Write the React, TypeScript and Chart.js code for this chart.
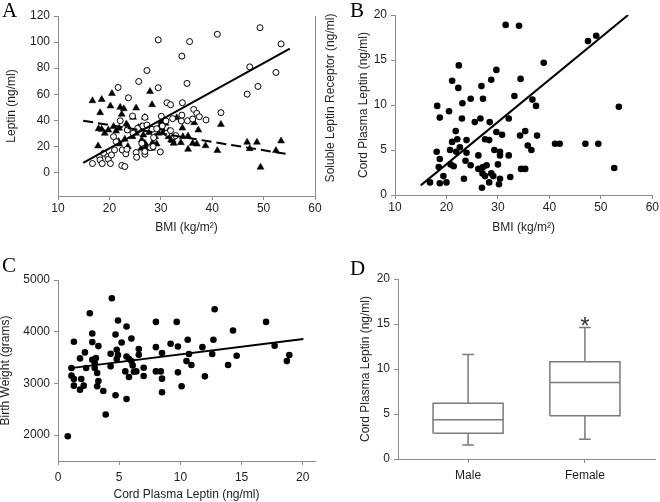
import React, { useEffect, useRef } from "react";
import { Chart, registerables } from "chart.js";

Chart.register(...registerables);

const SANS = "'Liberation Sans', Arial, Helvetica, sans-serif";
const SERIF = "'Liberation Serif', 'Times New Roman', serif";
const AXIS_COLOR = "#8c8c8c";
const TEXT_COLOR = "#1e1e1e";
const BOX_COLOR = "#7a7a7a";

// ---------------- Panel A ----------------
const aLeptinBmi = [16.7, 18.1, 18.2, 18.6, 18.9, 19.7, 19.8, 20.2, 20.4, 21.0, 21.3, 20.8, 21.7, 22.1, 22.4, 23.0, 22.5, 23.2, 23.4, 23.5, 23.7, 24.5, 24.6, 25.2, 25.3, 25.5, 25.7, 26.3, 26.5, 26.9, 26.9, 26.9, 27.3, 27.3, 28.0, 28.3, 28.5, 28.6, 29.2, 29.5, 29.5, 29.9, 30.1, 30.3, 31.0, 31.2, 31.2, 31.9, 31.9, 32.3, 32.6, 32.9, 34.0, 34.1, 34.1, 34.2, 35.1, 35.2, 35.6, 36.2, 36.4, 37.0, 37.5, 38.8, 41.0, 41.7, 46.8, 47.3, 48.9, 49.3, 52.4, 53.4];
const aLeptin = [6.9, 12.2, 9.7, 6.9, 14.8, 12.2, 10.2, 6.9, 13.5, 17.3, 23.7, 27.5, 65.2, 39.7, 5.4, 4.6, 17.3, 14.3, 17.8, 32.6, 57.3, 43.3, 30.1, 15.3, 11.7, 33.9, 69.8, 22.4, 35.7, 42.3, 14.0, 16.1, 36.4, 78.2, 19.1, 33.1, 19.9, 26.8, 33.6, 65.0, 101.7, 15.8, 43.1, 35.7, 39.5, 53.5, 30.1, 52.0, 32.1, 41.3, 27.5, 28.3, 39.5, 44.0, 89.2, 53.5, 68.3, 39.7, 100.4, 41.0, 48.4, 45.4, 42.8, 40.3, 106.0, 45.9, 60.1, 81.0, 66.0, 111.0, 76.7, 98.6];
const aReceptorBmi = [16.7, 18.5, 20.5, 18.2, 20.2, 22.1, 22.8, 25.2, 27.9, 28.3, 22.4, 17.9, 18.5, 19.1, 19.8, 20.8, 21.3, 21.9, 23.3, 23.6, 17.8, 21.8, 21.9, 23.0, 23.6, 24.5, 25.2, 26.2, 26.3, 26.6, 26.9, 27.3, 27.7, 28.4, 28.9, 29.6, 30.2, 30.3, 30.1, 26.2, 26.9, 28.3, 29.2, 24.6, 26.9, 25.7, 30.9, 33.1, 31.5, 32.0, 32.3, 33.9, 34.2, 34.3, 35.3, 35.3, 36.2, 36.5, 37.0, 37.3, 38.7, 41.0, 41.7, 46.8, 47.3, 48.7, 49.4, 52.4, 53.4, 31.5, 32.5, 29.8, 30.5];
const aReceptor = [55.0, 56.0, 60.6, 45.9, 51.0, 50.0, 48.9, 49.4, 62.2, 52.0, 44.6, 33.6, 33.1, 30.1, 32.6, 35.2, 31.8, 33.9, 37.2, 35.2, 20.4, 23.7, 21.9, 25.5, 19.9, 27.5, 30.1, 35.2, 25.0, 28.8, 22.4, 19.9, 30.6, 22.9, 27.5, 30.1, 33.9, 37.2, 39.0, 18.6, 18.6, 18.6, 21.9, 42.3, 42.3, 34.6, 37.7, 42.0, 31.8, 25.0, 24.5, 22.9, 34.1, 27.5, 28.0, 17.8, 22.4, 38.2, 21.9, 32.6, 20.6, 16.8, 36.9, 23.2, 18.3, 23.2, 4.1, 16.8, 24.2, 27.5, 22.4, 35.2, 31.3];
const aLeptinFitX = [14.9, 55.1];
const aLeptinFitY = [7.4, 95.0];
const aReceptorFitX = [14.9, 54.3];
const aReceptorFitY = [39.7, 14.3];
const aXTicks = [10, 20, 30, 40, 50, 60];
const aYTicks = [0, 20, 40, 60, 80, 100, 120];
const aXTitle = "BMI (kg/m\u00b2)";
const aYTitle = "Leptin (ng/ml)";
const aRightTitle = "Soluble Leptin Receptor (ng/ml)";

// ---------------- Panel B ----------------
const bBmi = [16.8, 18.1, 18.2, 18.7, 18.7, 18.5, 18.7, 19.4, 20.0, 20.5, 20.7, 20.8, 21.1, 21.1, 21.4, 21.8, 22.1, 22.3, 22.4, 21.9, 22.6, 23.0, 23.1, 23.4, 23.7, 23.9, 23.9, 24.7, 24.7, 25.5, 26.2, 26.2, 26.6, 26.8, 27.1, 27.1, 27.0, 26.9, 27.5, 27.5, 27.8, 28.3, 28.4, 28.7, 28.3, 28.7, 29.1, 29.3, 29.7, 29.7, 30.0, 30.4, 30.4, 30.4, 30.2, 30.8, 31.5, 32.1, 32.1, 32.4, 33.2, 34.1, 34.4, 34.3, 34.5, 35.3, 35.3, 35.8, 36.5, 36.7, 37.4, 37.6, 38.9, 41.1, 42.0, 47.0, 47.5, 49.1, 49.5, 52.6, 53.5];
const bLeptin = [1.4, 4.8, 9.9, 8.6, 4.0, 3.1, 1.3, 2.1, 1.4, 9.3, 5.0, 3.4, 12.7, 5.9, 3.2, 7.1, 6.2, 11.9, 14.4, 4.8, 5.3, 8.5, 10.2, 1.8, 3.8, 6.1, 4.7, 10.7, 3.3, 8.1, 2.9, 4.4, 8.5, 12.1, 10.7, 3.1, 2.4, 0.8, 6.2, 2.1, 3.3, 6.1, 8.1, 12.8, 1.4, 2.4, 2.1, 5.0, 13.9, 7.0, 3.4, 4.8, 4.4, 1.8, 1.2, 6.7, 18.9, 8.5, 4.4, 2.0, 11.0, 18.8, 12.9, 6.6, 2.9, 2.9, 7.1, 5.5, 5.0, 10.6, 9.9, 6.6, 14.7, 5.7, 5.7, 5.7, 17.1, 17.7, 5.7, 3.0, 9.8];
const bFitX = [15.0, 55.3];
const bFitY = [1.07, 20.0];
const bXTicks = [10, 20, 30, 40, 50, 60];
const bYTicks = [0, 5, 10, 15, 20];
const bXTitle = "BMI (kg/m\u00b2)";
const bYTitle = "Cord Plasma Leptin (ng/ml)";

// ---------------- Panel C ----------------
const cLeptin = [0.8, 1.1, 1.1, 1.3, 1.3, 1.3, 1.8, 1.8, 1.9, 2.1, 2.2, 2.3, 2.6, 2.8, 2.8, 2.8, 3.0, 3.0, 3.1, 3.2, 3.2, 3.3, 3.3, 3.7, 3.9, 4.3, 4.3, 4.4, 4.7, 4.7, 4.8, 4.8, 4.9, 4.9, 5.2, 5.5, 5.6, 5.6, 5.6, 5.8, 5.8, 6.0, 6.0, 6.1, 6.2, 6.6, 6.6, 6.4, 7.0, 7.0, 8.0, 8.0, 8.0, 8.4, 8.5, 8.5, 8.5, 9.2, 9.7, 9.8, 9.8, 10.1, 10.5, 10.6, 10.7, 10.9, 11.8, 12.0, 12.6, 12.7, 12.8, 13.9, 14.3, 14.6, 17.0, 17.7, 18.7, 18.9];
const cWeight = [1980, 3298, 3150, 3086, 3805, 2957, 3484, 2880, 3086, 2957, 3600, 3298, 4358, 3966, 3799, 3458, 3394, 3298, 3490, 3201, 2944, 3722, 3047, 2854, 2398, 3330, 3574, 4647, 3946, 2771, 3651, 3471, 4216, 3548, 3792, 3233, 4101, 3522, 2700, 3471, 3124, 3869, 3432, 3349, 3227, 3664, 3555, 3233, 3304, 3144, 4190, 3702, 3233, 3233, 3587, 3092, 2829, 3767, 4190, 3715, 3214, 2944, 3432, 3844, 3568, 3355, 3702, 3137, 3568, 3844, 4435, 3355, 4024, 3535, 4190, 3728, 3432, 3548];
const cFitX = [0.87, 20.05];
const cFitY = [3291, 3857];
const cXTicks = [0, 5, 10, 15, 20];
const cYTicks = [2000, 3000, 4000, 5000];
const cXTitle = "Cord Plasma Leptin (ng/ml)";
const cYTitle = "Birth Weight (grams)";

// ---------------- Panel D ----------------
const dGroups = ["Male", "Female"];
const dMin = [1.55, 2.2];
const dQ1 = [2.85, 4.8];
const dMedian = [4.37, 8.5];
const dQ3 = [6.2, 10.8];
const dMax = [11.6, 14.6];
const dMarks = ["", "*"];
const dYTicks = [0, 5, 10, 15, 20];
const dYTitle = "Cord Plasma Leptin (ng/ml)";

const BOX_HALF = 0.3;
const CAP_HALF = 0.05;

const pts = (xs: number[], ys: number[]) => xs.map((x, i) => ({ x, y: ys[i] }));

function axis(o: any) {
  return {
    type: "linear",
    position: o.position,
    min: o.min,
    max: o.max,
    afterBuildTicks: (s: any) => {
      s.ticks = o.ticks.map((v: number) => ({ value: v }));
    },
    afterFit: (s: any) => {
      if (o.horizontal) s.height = o.size;
      else s.width = o.size;
    },
    grid: {
      display: o.noGrid ? false : true,
      drawOnChartArea: false,
      drawTicks: true,
      tickLength: 4,
      color: AXIS_COLOR,
      lineWidth: 1,
    },
    border: { display: true, color: AXIS_COLOR, width: 1 },
    ticks: {
      display: o.noTicks ? false : true,
      color: TEXT_COLOR,
      font: { family: SANS, size: 12 },
      padding: o.labelPad ?? 3,
      maxRotation: 0,
      autoSkip: false,
      callback: (v: any) => (o.label ? o.label(v) : String(v)),
    },
    title: {
      display: !!o.title,
      text: o.title || "",
      color: TEXT_COLOR,
      font: { family: SANS, size: 12, lineHeight: o.lineHeight ?? 1.2 },
      padding: o.titlePad ?? 0,
    },
  };
}

function letterPlugin(letter: string, x: number, y: number) {
  return {
    id: "letter" + letter,
    afterDraw(chart: any) {
      const ctx = chart.ctx;
      ctx.save();
      ctx.font = `21px ${SERIF}`;
      ctx.fillStyle = "#000";
      ctx.textAlign = "left";
      ctx.textBaseline = "alphabetic";
      ctx.fillText(letter, x, y);
      ctx.restore();
    },
  };
}

const baseOptions = {
  animation: false,
  responsive: false,
  devicePixelRatio: 1,
  plugins: { legend: { display: false }, tooltip: { enabled: false } },
  events: [],
};

function configA() {
  const rightTitle = {
    id: "rightTitle",
    afterDraw(chart: any) {
      const s = chart.scales.y2;
      const ctx = chart.ctx;
      ctx.save();
      ctx.font = `12px ${SANS}`;
      ctx.fillStyle = TEXT_COLOR;
      ctx.translate(s.left + 16, (s.top + s.bottom) / 2 - 8);
      ctx.rotate(-Math.PI / 2);
      ctx.textAlign = "center";
      ctx.textBaseline = "middle";
      ctx.fillText(aRightTitle, 0, 0);
      ctx.restore();
    },
  };
  return {
    type: "scatter",
    data: {
      datasets: [
        {
          data: pts(aLeptinFitX, aLeptinFitY),
          showLine: true,
          pointRadius: 0,
          borderColor: "#000",
          borderWidth: 2,
          yAxisID: "y",
        },
        {
          data: pts(aReceptorFitX, aReceptorFitY),
          showLine: true,
          pointRadius: 0,
          borderColor: "#000",
          borderWidth: 2,
          borderDash: [10, 5],
          yAxisID: "y2",
        },
        {
          data: pts(aLeptinBmi, aLeptin),
          pointStyle: "circle",
          pointRadius: 3,
          backgroundColor: "#fff",
          borderColor: "#000",
          borderWidth: 1,
          yAxisID: "y",
        },
        {
          data: pts(aReceptorBmi, aReceptor),
          pointStyle: "triangle",
          pointRadius: 4,
          backgroundColor: "#000",
          borderColor: "#000",
          borderWidth: 0.5,
          yAxisID: "y2",
        },
      ],
    },
    options: {
      ...baseOptions,
      layout: { padding: { left: 0, top: 16, right: 0, bottom: 0 } },
      scales: {
        x: axis({ min: 10, max: 60, ticks: aXTicks, size: 54, horizontal: true, title: aXTitle, titlePad: { top: 0, bottom: 15 }, labelPad: 1 }),
        y: axis({ position: "left", min: -18, max: 120, ticks: aYTicks, size: 58, title: aYTitle, titlePad: { top: 4, bottom: 0 }, labelPad: 4 }),
        y2: axis({ position: "right", min: -18, max: 120, ticks: aYTicks, size: 30, noGrid: true, noTicks: true }),
      },
    },
    plugins: [letterPlugin("A", 2, 17), rightTitle],
  };
}

function configB() {
  return {
    type: "scatter",
    data: {
      datasets: [
        {
          data: pts(bFitX, bFitY),
          showLine: true,
          pointRadius: 0,
          borderColor: "#000",
          borderWidth: 2,
        },
        {
          data: pts(bBmi, bLeptin),
          pointStyle: "circle",
          pointRadius: 3.3,
          backgroundColor: "#000",
          borderColor: "#000",
          borderWidth: 0,
        },
      ],
    },
    options: {
      ...baseOptions,
      layout: { padding: { left: 0, top: 15, right: 7, bottom: 0 } },
      scales: {
        x: axis({ min: 10, max: 60, ticks: bXTicks, size: 55, horizontal: true, title: bXTitle, titlePad: { top: 0, bottom: 15 }, labelPad: 1 }),
        y: axis({ position: "left", min: 0, max: 20, ticks: bYTicks, size: 65, title: bYTitle, titlePad: { top: 26, bottom: 0 }, labelPad: 4 }),
      },
    },
    plugins: [letterPlugin("B", 20, 17)],
  };
}

function configC() {
  return {
    type: "scatter",
    data: {
      datasets: [
        {
          data: pts(cFitX, cFitY),
          showLine: true,
          pointRadius: 0,
          borderColor: "#000",
          borderWidth: 2,
        },
        {
          data: pts(cLeptin, cWeight),
          pointStyle: "circle",
          pointRadius: 3.3,
          backgroundColor: "#000",
          borderColor: "#000",
          borderWidth: 0,
        },
      ],
    },
    options: {
      ...baseOptions,
      layout: { padding: { left: 0, top: 30, right: 15, bottom: 0 } },
      scales: {
        x: axis({ min: 0, max: 21, ticks: cXTicks, size: 41, horizontal: true, title: cXTitle, titlePad: { top: 0, bottom: 0 }, labelPad: 5 }),
        y: axis({ position: "left", min: 1500, max: 5000, ticks: cYTicks, size: 58, title: cYTitle, titlePad: { top: 0, bottom: 0 }, lineHeight: 0.9, labelPad: 4 }),
      },
    },
    plugins: [letterPlugin("C", 2, 22)],
  };
}

function configD() {
  const boxData: { x: number; y: number | null }[] = [];
  dGroups.forEach((_, i) => {
    const c = i + 1;
    const seg = (a: { x: number; y: number }[]) => {
      a.forEach((p) => boxData.push(p));
      boxData.push({ x: c, y: null });
    };
    seg([
      { x: c - BOX_HALF, y: dQ1[i] },
      { x: c + BOX_HALF, y: dQ1[i] },
      { x: c + BOX_HALF, y: dQ3[i] },
      { x: c - BOX_HALF, y: dQ3[i] },
      { x: c - BOX_HALF, y: dQ1[i] },
    ]);
    seg([
      { x: c - BOX_HALF, y: dMedian[i] },
      { x: c + BOX_HALF, y: dMedian[i] },
    ]);
    seg([
      { x: c, y: dQ3[i] },
      { x: c, y: dMax[i] },
    ]);
    seg([
      { x: c - CAP_HALF, y: dMax[i] },
      { x: c + CAP_HALF, y: dMax[i] },
    ]);
    seg([
      { x: c, y: dQ1[i] },
      { x: c, y: dMin[i] },
    ]);
    seg([
      { x: c - CAP_HALF, y: dMin[i] },
      { x: c + CAP_HALF, y: dMin[i] },
    ]);
  });
  const marks = {
    id: "sigMarks",
    afterDatasetsDraw(chart: any) {
      const { x, y } = chart.scales;
      const ctx = chart.ctx;
      ctx.save();
      ctx.font = `24px ${SANS}`;
      ctx.fillStyle = "#333";
      ctx.textAlign = "center";
      ctx.textBaseline = "alphabetic";
      dMarks.forEach((m, i) => {
        if (!m) return;
        ctx.fillText(m, x.getPixelForValue(i + 1), y.getPixelForValue(dMax[i]) + 6);
      });
      ctx.restore();
    },
  };
  return {
    type: "scatter",
    data: {
      datasets: [
        {
          data: boxData,
          showLine: true,
          spanGaps: false,
          pointRadius: 0,
          borderColor: BOX_COLOR,
          borderWidth: 1.5,
        },
      ],
    },
    options: {
      ...baseOptions,
      layout: { padding: { left: 0, top: 29, right: 5, bottom: 0 } },
      scales: {
        x: axis({ min: 0.4, max: 2.6, ticks: [1, 2], size: 43, horizontal: true, labelPad: 5, label: (v: number) => dGroups[Math.round(v) - 1] || "" }),
        y: axis({ position: "left", min: 0, max: 20, ticks: dYTicks, size: 68, title: dYTitle, titlePad: { top: 28, bottom: 0 }, labelPad: 4 }),
      },
    },
    plugins: [letterPlugin("D", 20, 25), marks],
  };
}

function ChartPanel({ left, top, width, height, make }: any) {
  const ref = useRef<HTMLCanvasElement>(null);
  useEffect(() => {
    const chart = new Chart(ref.current as HTMLCanvasElement, make() as any);
    return () => chart.destroy();
  }, []);
  return (
    <canvas
      ref={ref}
      width={width}
      height={height}
      style={{ position: "absolute", left, top, width, height }}
    />
  );
}

export default function App() {
  return (
    <div style={{ position: "absolute", left: 0, top: 0, width: 660, height: 502, background: "#fff", overflow: "hidden" }}>
      <ChartPanel left={0} top={0} width={345} height={250} make={configA} />
      <ChartPanel left={330} top={0} width={330} height={250} make={configB} />
      <ChartPanel left={0} top={250} width={330} height={252} make={configC} />
      <ChartPanel left={330} top={250} width={330} height={252} make={configD} />
    </div>
  );
}
